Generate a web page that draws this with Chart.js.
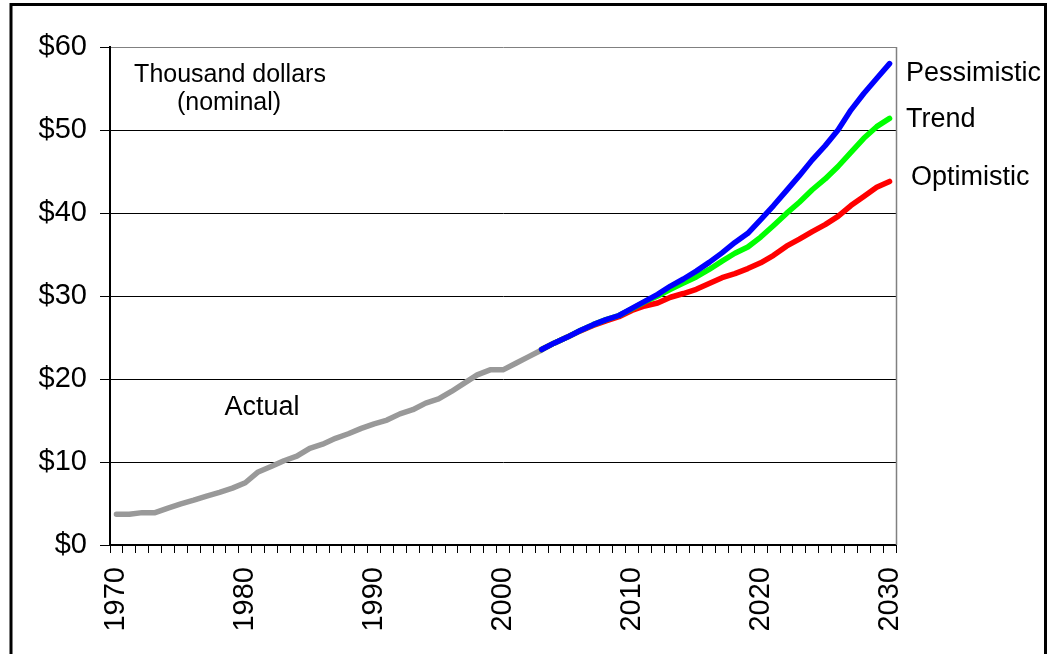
<!DOCTYPE html>
<html>
<head>
<meta charset="utf-8">
<title>Thousand dollars (nominal), 1970-2030</title>
<script src="https://cdn.jsdelivr.net/npm/chart.js@4.4.1/dist/chart.umd.min.js"></script>
<style>
  html, body { margin: 0; padding: 0; background: #ffffff; }
  #wrap { width: 1047px; height: 654px; }
</style>
</head>
<body>
<div id="wrap"><canvas id="chart" width="1047" height="654"></canvas></div>
<script>
// Years on the category axis
const years = [
  '1970','1971','1972','1973','1974','1975','1976','1977','1978','1979',
  '1980','1981','1982','1983','1984','1985','1986','1987','1988','1989',
  '1990','1991','1992','1993','1994','1995','1996','1997','1998','1999',
  '2000','2001','2002','2003','2004','2005','2006','2007','2008','2009',
  '2010','2011','2012','2013','2014','2015','2016','2017','2018','2019',
  '2020','2021','2022','2023','2024','2025','2026','2027','2028','2029',
  '2030'
];
// Years that carry a printed label
const labeledYears = ['1970','1980','1990','2000','2010','2020','2030'];
// Dollar ticks on the value axis
const valueTicks = [0, 10, 20, 30, 40, 50, 60];

// Actual values, 1970-2003 (thousand dollars)
const actual = [
  3.7, 3.7, 3.9, 3.9, 4.45, 4.95, 5.4, 5.9, 6.35, 6.85,
  7.5, 8.8, 9.45, 10.15, 10.7, 11.65, 12.15, 12.85, 13.4, 14.05,
  14.6, 15.05, 15.8, 16.3, 17.1, 17.6, 18.5, 19.5, 20.5, 21.1,
  21.1, 21.9, 22.7, 23.5
];
// Projections, 2003-2030
const projectionStart = '2003';
const pessimistic = [
  23.55, 24.35, 25.05, 25.85, 26.55, 27.15, 27.65, 28.5, 29.35, 30.2,
  31.2, 32.05, 33.0, 34.05, 35.2, 36.45, 37.55, 39.2, 40.9, 42.7,
  44.5, 46.4, 48.1, 50.0, 52.4, 54.4, 56.2, 58.0
];
const trend = [
  23.55, 24.35, 25.05, 25.85, 26.55, 27.15, 27.65, 28.45, 29.3, 30.0,
  30.8, 31.55, 32.3, 33.2, 34.2, 35.15, 35.9, 37.1, 38.5, 39.95,
  41.3, 42.8, 44.1, 45.6, 47.3, 49.0, 50.4, 51.4
];
const optimistic = [
  23.55, 24.35, 25.05, 25.8, 26.45, 27.0, 27.5, 28.25, 28.8, 29.15,
  29.85, 30.3, 30.8, 31.5, 32.2, 32.7, 33.3, 34.0, 34.9, 36.0,
  36.85, 37.75, 38.6, 39.6, 40.9, 42.0, 43.1, 43.8
];

// Place a short series on the full year axis
function alignFrom(startYear, values) {
  const start = years.indexOf(startYear);
  return years.map((y, i) => (i >= start && i - start < values.length) ? values[i - start] : null);
}

const FONT = '"Liberation Sans", Arial, Helvetica, sans-serif';

const lineStyle = {
  borderWidth: 5.5,
  pointRadius: 0,
  pointHoverRadius: 0,
  tension: 0,
  fill: false,
  spanGaps: false,
  borderJoinStyle: 'round',
  borderCapStyle: 'round'
};

// Outer frame, gray plot border and the text annotations
const decorations = {
  id: 'decorations',
  beforeDraw(chart) {
    const ctx = chart.ctx;
    ctx.save();
    ctx.fillStyle = '#ffffff';
    ctx.fillRect(0, 0, chart.width, chart.height);
    ctx.restore();
  },
  beforeDatasetsDraw(chart) {
    const { ctx, chartArea } = chart;
    ctx.save();
    ctx.strokeStyle = '#808080';
    ctx.lineWidth = 1.5;
    ctx.beginPath();
    ctx.moveTo(chartArea.right + 0.5, chartArea.top);
    ctx.lineTo(chartArea.right + 0.5, chartArea.bottom);
    ctx.stroke();
    ctx.restore();
  },
  afterDraw(chart) {
    const ctx = chart.ctx;
    ctx.save();
    ctx.strokeStyle = '#000000';
    ctx.lineWidth = 3;
    ctx.strokeRect(11, 4.5, 1034.5, 700);

    ctx.fillStyle = '#000000';
    ctx.textBaseline = 'alphabetic';
    ctx.font = '25px ' + FONT;
    ctx.textAlign = 'center';
    ctx.fillText('Thousand dollars', 230, 82);
    ctx.fillText('(nominal)', 229, 110);

    ctx.font = '27px ' + FONT;
    ctx.fillText('Actual', 262, 415);

    ctx.textAlign = 'left';
    ctx.fillText('Pessimistic', 906, 81);
    ctx.fillText('Trend', 906, 127);
    ctx.fillText('Optimistic', 911, 185);
    ctx.restore();
  }
};

new Chart(document.getElementById('chart'), {
  type: 'line',
  data: {
    labels: years,
    datasets: [
      Object.assign({ label: 'Pessimistic', data: alignFrom(projectionStart, pessimistic), borderColor: '#0000ff', order: 1 }, lineStyle),
      Object.assign({ label: 'Trend', data: alignFrom(projectionStart, trend), borderColor: '#00ff00', order: 2 }, lineStyle),
      Object.assign({ label: 'Optimistic', data: alignFrom(projectionStart, optimistic), borderColor: '#ff0000', order: 3 }, lineStyle),
      Object.assign({ label: 'Actual', data: alignFrom('1970', actual), borderColor: '#999999', order: 4 }, lineStyle)
    ]
  },
  options: {
    responsive: false,
    maintainAspectRatio: false,
    animation: false,
    devicePixelRatio: 1,
    layout: { padding: { left: 0, top: 47, right: 151, bottom: 0 } },
    plugins: {
      legend: { display: false },
      title: { display: false },
      tooltip: { enabled: false }
    },
    scales: {
      x: {
        type: 'category',
        offset: true,
        afterFit(scale) { scale.height = 109; },
        border: { display: true, color: '#000000', width: 2 },
        grid: {
          display: true,
          offset: true,
          drawOnChartArea: false,
          drawTicks: true,
          tickLength: 8,
          color: '#000000',
          lineWidth: 1
        },
        ticks: {
          autoSkip: false,
          minRotation: 90,
          maxRotation: 90,
          padding: 14,
          color: '#000000',
          font: { family: FONT, size: 29 },
          callback(value, index) {
            const y = years[index];
            return labeledYears.includes(y) ? y : '';
          }
        }
      },
      y: {
        min: valueTicks[0],
        max: valueTicks[valueTicks.length - 1],
        afterFit(scale) { scale.width = 110; },
        afterBuildTicks(scale) { scale.ticks = valueTicks.map(v => ({ value: v })); },
        border: { display: true, color: '#000000', width: 2 },
        grid: {
          display: true,
          drawTicks: true,
          tickLength: 10,
          lineWidth: 1,
          color(ctx) { return ctx.tick && ctx.tick.value === 60 ? '#808080' : '#000000'; },
          tickColor: '#000000'
        },
        ticks: {
          padding: 13,
          color: '#000000',
          font: { family: FONT, size: 29 },
          callback(value) { return '$' + value; }
        }
      }
    }
  },
  plugins: [decorations]
});
</script>
</body>
</html>
